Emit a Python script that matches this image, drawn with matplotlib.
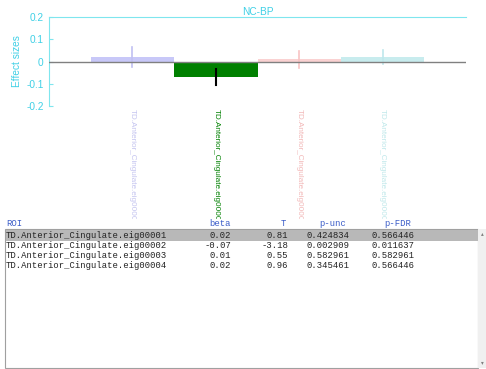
import matplotlib.pyplot as plt
from matplotlib.patches import Rectangle

# effect sizes per ROI
rois = ["TD.Anterior_Cingulate.eig00001", "TD.Anterior_Cingulate.eig00002",
        "TD.Anterior_Cingulate.eig00003", "TD.Anterior_Cingulate.eig00004"]
beta = [0.02, -0.07, 0.01, 0.02]
ci = [0.043, 0.035, 0.038, 0.030]
tvals = ["0.81", "-3.18", "0.55", "0.96"]
punc = ["0.424834", "0.002909", "0.582961", "0.345461"]
pfdr = ["0.566446", "0.011637", "0.582961", "0.566446"]

bar_cols = ["#c8c8f8", "#008000", "#fad2d2", "#c8ecee"]
err_cols = ["#c0c0f2", "#000000", "#f8c4c4", "#bfe8ec"]
lab_cols = ["#c4c4f0", "#008000", "#f2b8b8", "#bfe8ea"]
cyan = "#7fe6ee"
cyan_txt = "#3fd0e6"

W, H = 486, 369
fig = plt.figure(figsize=(W / 100, H / 100), dpi=100)
fig.patch.set_facecolor("white")

ax = fig.add_axes([49 / W, 1 - 106 / H, 417 / W, 89 / H])
x = [1, 2, 3, 4]
ax.bar(x, beta, width=1.0, color=bar_cols, edgecolor="none", zorder=2)
for xi, b, e, c in zip(x, beta, ci, err_cols):
    ax.plot([xi, xi], [b - e, b + e], color=c, lw=1.5 if c == "#000000" else 1.2, zorder=3)
ax.axhline(0, color="#808080", lw=1, zorder=4)
ax.set_xlim(0, 5)
ax.set_ylim(-0.2, 0.2)
ax.set_yticks([-0.2, -0.1, 0, 0.1, 0.2])
ax.set_yticklabels(["-0.2", "-0.1", "0", "0.1", "0.2"])
ax.tick_params(axis="y", direction="in", length=3, color=cyan, labelcolor=cyan_txt,
               labelsize=7.3, pad=4)
for lbl in ax.get_yticklabels():
    lbl.set_family("Liberation Sans")
ax.set_xticks(x)
ax.set_xticklabels(rois, rotation=-90, fontsize=5.9, family="Liberation Sans",
                   va="top", ha="center")
for lbl, c in zip(ax.get_xticklabels(), lab_cols):
    lbl.set_color(c)
ax.tick_params(axis="x", length=0, pad=2)
for s in ["bottom", "right"]:
    ax.spines[s].set_visible(False)
ax.spines["left"].set_color(cyan)
ax.spines["top"].set_color(cyan)
ax.set_ylabel("Effect sizes", color=cyan_txt, fontsize=7.3, family="Liberation Sans", labelpad=3)
ax.set_title("NC-BP", color=cyan_txt, fontsize=7.3, family="Liberation Sans", pad=1.5)

# results list below the plot; its white panel hides the tail of the ROI names
tab = fig.add_axes([0, 0, 1, 1], zorder=10)
tab.set_xlim(0, W)
tab.set_ylim(H, 0)
tab.axis("off")
tab.patch.set_visible(False)
tab.add_patch(Rectangle((0, 219), W, H - 219, facecolor="white", edgecolor="none"))

mono = dict(family="Liberation Mono", fontsize=6.4)
hdr = "#3a5cc8"
tab.text(6, 224, "ROI", color=hdr, va="center", ha="left", **mono)
tab.text(231, 224, "beta", color=hdr, va="center", ha="right", **mono)
tab.text(286, 224, "T", color=hdr, va="center", ha="right", **mono)
tab.text(346, 224, "p-unc", color=hdr, va="center", ha="right", **mono)
tab.text(411, 224, "p-FDR", color=hdr, va="center", ha="right", **mono)

tab.add_patch(Rectangle((5, 229), 473, 139, facecolor="white", edgecolor="#a0a0a0", lw=0.8))
tab.add_patch(Rectangle((478, 229), 8, 139, facecolor="#f0f0f0", edgecolor="none"))
tab.text(482, 234, "\u25b4", color="#808080", fontsize=4, ha="center", va="center")
tab.text(482, 363, "\u25be", color="#808080", fontsize=4, ha="center", va="center")
tab.add_patch(Rectangle((5.5, 230), 472, 11, facecolor="#b8b8b8", edgecolor="none"))

for i in range(len(rois)):
    y = 235.5 + 10 * i
    tab.text(6, y, rois[i], color="#222222", va="center", ha="left", **mono)
    tab.text(231, y, f"{beta[i]:.2f}", color="#222222", va="center", ha="right", **mono)
    tab.text(288, y, tvals[i], color="#222222", va="center", ha="right", **mono)
    tab.text(349, y, punc[i], color="#222222", va="center", ha="right", **mono)
    tab.text(414, y, pfdr[i], color="#222222", va="center", ha="right", **mono)

fig.savefig("out.png", dpi=100)
